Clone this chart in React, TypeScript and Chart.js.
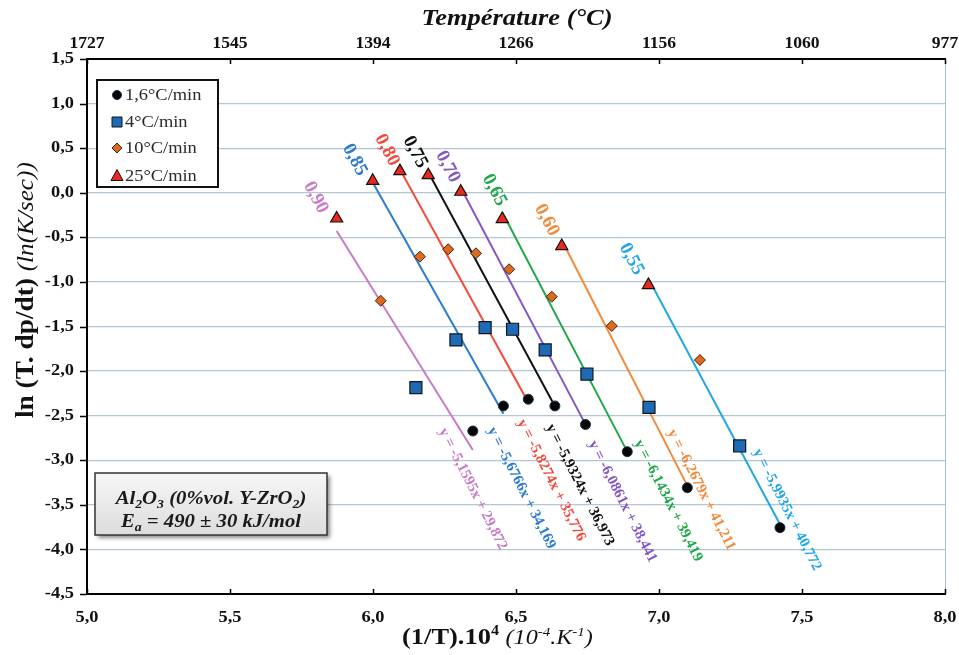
import React, { useEffect, useRef } from 'react';
import { Chart, registerables } from 'chart.js';

Chart.register(...registerables);

// ---------- data ----------
const alphaLabels = ['0,90', '0,85', '0,80', '0,75', '0,70', '0,65', '0,60', '0,55'];
const rateLabels = ['1,6°C/min', '4°C/min', '10°C/min', '25°C/min'];

const x16 = [6.349, 6.456, 6.543, 6.636, 6.743, 6.889, 7.099, 7.423];
const y16 = [-2.672, -2.391, -2.316, -2.391, -2.599, -2.904, -3.308, -3.756];
const x4 = [6.150, 6.290, 6.392, 6.488, 6.602, 6.748, 6.965, 7.282];
const y4 = [-2.186, -1.651, -1.513, -1.531, -1.763, -2.033, -2.408, -2.840];
const x10 = [6.027, 6.164, 6.263, 6.360, 6.476, 6.625, 6.835, 7.143];
const y10 = [-1.211, -0.717, -0.634, -0.679, -0.858, -1.166, -1.494, -1.876];
const x25 = [5.873, 5.999, 6.094, 6.193, 6.307, 6.452, 6.660, 6.963];
const y25 = [-0.289, 0.134, 0.243, 0.198, 0.011, -0.295, -0.598, -1.035];

const slopes = [-5.1595, -5.6766, -5.8274, -5.9324, -6.0861, -6.1434, -6.2679, -5.9935];
const intercepts = [29.872, 34.169, 35.776, 36.973, 38.441, 39.419, 41.211, 40.772];

const xTicks = [5, 5.5, 6, 6.5, 7, 7.5, 8];
const xTickLabels = ['5,0', '5,5', '6,0', '6,5', '7,0', '7,5', '8,0'];
const topTickLabels = ['1727', '1545', '1394', '1266', '1156', '1060', '977'];
const yTicks = [1.5, 1, 0.5, 0, -0.5, -1, -1.5, -2, -2.5, -3, -3.5, -4, -4.5];
const yTickLabels = ['1,5', '1,0', '0,5', '0,0', '-0,5', '-1,0', '-1,5', '-2,0', '-2,5', '-3,0', '-3,5', '-4,0', '-4,5'];

// ---------- styles / layout ----------
const FONT = '"Liberation Serif", "Times New Roman", Times, serif';
const SX = 1.15;
const lineColors = ['#C77BC6', '#2C7BD0', '#F24B3A', '#111111', '#8457C4', '#20A849', '#F28A3C', '#22A7E6'];
const alphaOffsets = [[-21, -21], [-18, -21], [-13, -21], [-13, -23], [-13, -25], [-8, -29], [-15, -26], [-17, -26]];
const eqOffsets = [[0, 58], [18, 82], [23, 81], [25, 79], [37, 77], [41, 49], [14, 2], [7, -18]];

const markerStyles = [
  { pointStyle: 'circle', radius: 5, bg: '#050505', border: '#1d2f4a', bw: 1 },
  { pointStyle: 'rect', radius: 8.5, bg: '#1E6AB4', border: '#10161e', bw: 1.2 },
  { pointStyle: 'rectRot', radius: 5.5, bg: '#E06A1C', border: '#3b2414', bw: 1 },
  { pointStyle: 'triangle', radius: 7, bg: '#E52A1F', border: '#1a0d0d', bw: 1.2 },
];

const seriesX = [x16, x4, x10, x25];
const seriesY = [y16, y4, y10, y25];

type Seg = { t: string; f: string; dy?: number };

function drawRich(
  ctx: CanvasRenderingContext2D,
  segs: Seg[],
  x: number,
  y: number,
  o: { angle?: number; sx?: number; align?: 'left' | 'center' | 'right'; color: string; baseline?: CanvasTextBaseline }
) {
  ctx.save();
  ctx.translate(x, y);
  if (o.angle) ctx.rotate(o.angle);
  ctx.scale(o.sx ?? 1, 1);
  ctx.fillStyle = o.color;
  ctx.textBaseline = o.baseline ?? 'alphabetic';
  ctx.textAlign = 'left';
  let total = 0;
  const widths = segs.map((s) => {
    ctx.font = s.f;
    const w = ctx.measureText(s.t).width;
    total += w;
    return w;
  });
  let cx = o.align === 'center' ? -total / 2 : o.align === 'right' ? -total : 0;
  segs.forEach((s, i) => {
    ctx.font = s.f;
    ctx.fillText(s.t, cx, s.dy ?? 0);
    cx += widths[i];
  });
  ctx.restore();
}

function legendMarker(ctx: CanvasRenderingContext2D, k: number, x: number, y: number) {
  const m = markerStyles[k];
  ctx.save();
  ctx.fillStyle = m.bg;
  ctx.strokeStyle = m.border;
  ctx.lineWidth = 1;
  ctx.beginPath();
  if (k === 0) {
    ctx.arc(x, y, 4.5, 0, Math.PI * 2);
  } else if (k === 1) {
    ctx.rect(x - 5, y - 5, 10, 10);
  } else if (k === 2) {
    ctx.moveTo(x - 5, y);
    ctx.lineTo(x, y - 5);
    ctx.lineTo(x + 5, y);
    ctx.lineTo(x, y + 5);
    ctx.closePath();
  } else {
    ctx.moveTo(x, y - 6.5);
    ctx.lineTo(x + 6, y + 4.5);
    ctx.lineTo(x - 6, y + 4.5);
    ctx.closePath();
  }
  ctx.fill();
  ctx.stroke();
  ctx.restore();
}

const overlay = {
  id: 'overlay',
  afterDraw(chart: any) {
    const ctx: CanvasRenderingContext2D = chart.ctx;
    const xs = chart.scales.x;
    const ys = chart.scales.y;
    const a = chart.chartArea;

    // frame
    ctx.save();
    ctx.strokeStyle = '#A9BFCC';
    ctx.lineWidth = 1;
    ctx.beginPath();
    ctx.moveTo(a.right + 0.5, a.top);
    ctx.lineTo(a.right + 0.5, a.bottom);
    ctx.stroke();
    ctx.strokeStyle = '#000';
    ctx.lineWidth = 2;
    ctx.beginPath();
    ctx.moveTo(a.left - 1, a.top);
    ctx.lineTo(a.right + 1, a.top);
    ctx.moveTo(a.left, a.top);
    ctx.lineTo(a.left, a.bottom);
    ctx.moveTo(a.left - 1, a.bottom);
    ctx.lineTo(a.right + 1, a.bottom);
    ctx.stroke();

    // ticks
    ctx.lineWidth = 1.5;
    ctx.beginPath();
    yTicks.forEach((v) => {
      const py = Math.round(ys.getPixelForValue(v)) + 0.5;
      ctx.moveTo(a.left - 7, py);
      ctx.lineTo(a.left, py);
    });
    xTicks.forEach((v) => {
      const px = Math.round(xs.getPixelForValue(v)) + 0.5;
      ctx.moveTo(px, a.bottom);
      ctx.lineTo(px, a.bottom - 5);
      ctx.moveTo(px, a.top);
      ctx.lineTo(px, a.top + 5);
    });
    ctx.stroke();
    ctx.restore();

    // tick labels
    const tickFont = `bold 16px ${FONT}`;
    yTicks.forEach((v, i) => {
      drawRich(ctx, [{ t: yTickLabels[i], f: tickFont }], a.left - 13, ys.getPixelForValue(v), {
        sx: SX, align: 'right', color: '#111', baseline: 'middle',
      });
    });
    xTicks.forEach((v, i) => {
      drawRich(ctx, [{ t: xTickLabels[i], f: tickFont }], xs.getPixelForValue(v), a.bottom + 24, {
        sx: SX, align: 'center', color: '#111', baseline: 'middle',
      });
      drawRich(ctx, [{ t: topTickLabels[i], f: tickFont }], xs.getPixelForValue(v), a.top - 15, {
        sx: 1.1, align: 'center', color: '#111', baseline: 'middle',
      });
    });

    // titles
    drawRich(ctx, [{ t: 'Température (°C)', f: `italic bold 23px ${FONT}` }], 517, 25, {
      sx: SX, align: 'center', color: '#111',
    });
    drawRich(
      ctx,
      [
        { t: 'ln (T. dp/dt) ', f: `bold 26px ${FONT}` },
        { t: '(ln(K/sec))', f: `italic 24px ${FONT}` },
      ],
      33, 418,
      { angle: -Math.PI / 2, sx: 1.05, align: 'left', color: '#111' }
    );
    drawRich(
      ctx,
      [
        { t: '(1/T).10', f: `bold 23px ${FONT}` },
        { t: '4', f: `bold 14px ${FONT}`, dy: -9 },
        { t: ' ', f: `bold 23px ${FONT}` },
        { t: '(10', f: `italic 21px ${FONT}` },
        { t: '-4', f: `italic 13px ${FONT}`, dy: -8 },
        { t: '.K', f: `italic 21px ${FONT}` },
        { t: '-1', f: `italic 13px ${FONT}`, dy: -8 },
        { t: ')', f: `italic 21px ${FONT}` },
      ],
      402, 644,
      { sx: SX, align: 'left', color: '#111' }
    );

    // alpha labels and equations
    const ang = (62 * Math.PI) / 180;
    const eqAng = (63 * Math.PI) / 180;
    alphaLabels.forEach((lab, k) => {
      const tx = xs.getPixelForValue(x25[k]);
      const ty = ys.getPixelForValue(y25[k]);
      drawRich(ctx, [{ t: lab, f: `bold 19px ${FONT}` }], tx + alphaOffsets[k][0], ty + alphaOffsets[k][1], {
        angle: ang, align: 'center', color: lineColors[k], baseline: 'middle',
      });
      const cx = xs.getPixelForValue(x16[k]);
      const cy = ys.getPixelForValue(y16[k]);
      const eq = `y = ${String(slopes[k]).replace('.', ',')}x + ${String(intercepts[k]).replace('.', ',')}`;
      drawRich(ctx, [{ t: eq, f: `bold 15px ${FONT}` }], cx + eqOffsets[k][0], cy + eqOffsets[k][1], {
        angle: eqAng, align: 'center', color: lineColors[k], baseline: 'middle',
      });
    });

    // legend
    ctx.save();
    ctx.fillStyle = '#fff';
    ctx.fillRect(97, 80, 121, 107);
    ctx.strokeStyle = '#111';
    ctx.lineWidth = 2;
    ctx.strokeRect(97, 80, 121, 107);
    ctx.restore();
    const rowsY = [95, 122, 148, 176];
    rateLabels.forEach((lab, k) => {
      legendMarker(ctx, k, 117, rowsY[k]);
      drawRich(ctx, [{ t: lab, f: `16px ${FONT}` }], 125, rowsY[k] + 1, {
        sx: SX, align: 'left', color: '#2a2a2a', baseline: 'middle',
      });
    });

    // annotation box
    ctx.save();
    ctx.shadowColor = 'rgba(0,0,0,0.45)';
    ctx.shadowBlur = 4;
    ctx.shadowOffsetX = 3;
    ctx.shadowOffsetY = 3;
    ctx.fillStyle = '#e6e6e6';
    ctx.fillRect(95, 473, 232, 62);
    ctx.shadowColor = 'transparent';
    const g = ctx.createLinearGradient(0, 473, 0, 535);
    g.addColorStop(0, '#f7f7f7');
    g.addColorStop(1, '#dcdcdc');
    ctx.fillStyle = g;
    ctx.fillRect(95, 473, 232, 62);
    ctx.strokeStyle = '#333';
    ctx.lineWidth = 1.5;
    ctx.strokeRect(95, 473, 232, 62);
    ctx.restore();
    const bi = `italic bold 18px ${FONT}`;
    const bs = `italic bold 12px ${FONT}`;
    drawRich(
      ctx,
      [
        { t: 'Al', f: bi }, { t: '2', f: bs, dy: 4 }, { t: 'O', f: bi }, { t: '3', f: bs, dy: 4 },
        { t: ' (0%vol. Y-ZrO', f: bi }, { t: '2', f: bs, dy: 4 }, { t: ')', f: bi },
      ],
      211, 504, { sx: SX, align: 'center', color: '#1a1a1a' }
    );
    drawRich(
      ctx,
      [{ t: 'E', f: bi }, { t: 'a', f: bs, dy: 4 }, { t: ' = 490 ± 30 kJ/mol', f: bi }],
      211, 527, { sx: SX, align: 'center', color: '#1a1a1a' }
    );
  },
};

export default function App() {
  const ref = useRef<HTMLCanvasElement>(null);
  useEffect(() => {
    document.body.style.margin = '0';
    const canvas = ref.current;
    if (!canvas) return;

    const markerSets = seriesX.map((sx, i) => ({
      type: 'scatter',
      label: rateLabels[i],
      data: sx.map((x, j) => ({ x, y: seriesY[i][j] })),
      pointStyle: markerStyles[i].pointStyle,
      pointRadius: markerStyles[i].radius,
      backgroundColor: markerStyles[i].bg,
      borderColor: markerStyles[i].border,
      borderWidth: markerStyles[i].bw,
      showLine: false,
      order: 0,
    }));
    const lineSets = alphaLabels.map((lab, k) => {
      const all = seriesX.map((s) => s[k]);
      const x0 = Math.min(...all);
      const x1 = Math.max(...all);
      return {
        type: 'scatter',
        label: lab,
        data: [
          { x: x0, y: slopes[k] * x0 + intercepts[k] },
          { x: x1, y: slopes[k] * x1 + intercepts[k] },
        ],
        showLine: true,
        borderColor: lineColors[k],
        backgroundColor: lineColors[k],
        borderWidth: 2,
        pointRadius: 0,
        order: 1,
      };
    });

    const chart = new Chart(canvas, {
      type: 'scatter',
      data: { datasets: [...markerSets, ...lineSets] as any },
      options: {
        responsive: false,
        animation: false,
        events: [],
        layout: { padding: { left: 0, right: 14, top: 0, bottom: 0 } },
        plugins: { legend: { display: false }, tooltip: { enabled: false } },
        scales: {
          x: {
            type: 'linear', position: 'bottom', min: 5, max: 8,
            ticks: { display: false, stepSize: 0.5 },
            grid: { display: false }, border: { display: false },
            afterFit: (s: any) => { s.height = 61; },
          },
          x2: {
            type: 'linear', position: 'top', min: 5, max: 8,
            ticks: { display: false, stepSize: 0.5 },
            grid: { display: false }, border: { display: false },
            afterFit: (s: any) => { s.height = 59; },
          },
          y: {
            type: 'linear', min: -4.5, max: 1.5,
            ticks: { display: false, stepSize: 0.5 },
            grid: { color: '#B3C6D3', lineWidth: 1.3, drawTicks: false },
            border: { display: false },
            afterFit: (s: any) => { s.width = 87; },
          },
        },
      } as any,
      plugins: [overlay],
    });
    return () => chart.destroy();
  }, []);

  return (
    <div style={{ width: 959, height: 655, overflow: 'hidden' }}>
      <canvas ref={ref} width={959} height={655} style={{ display: 'block' }} />
    </div>
  );
}
